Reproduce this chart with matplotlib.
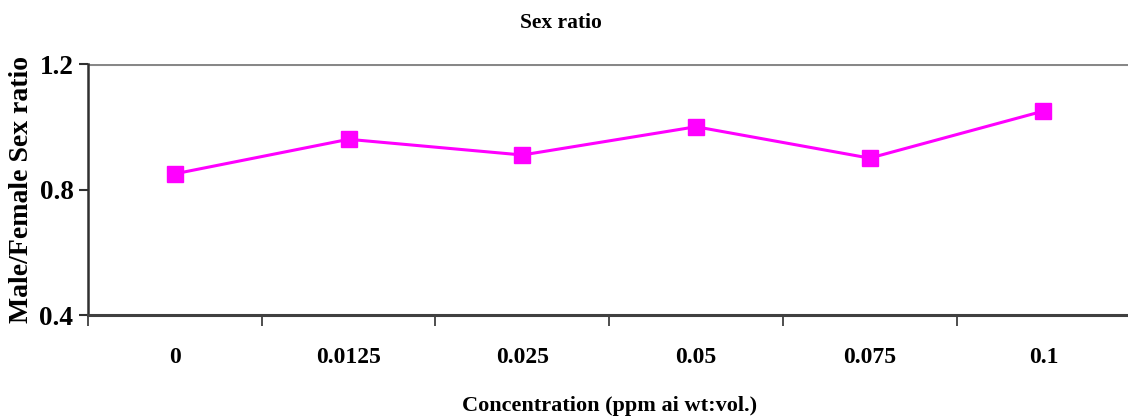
import matplotlib
matplotlib.use('Agg')
from matplotlib import pyplot as plt
import numpy as np

# data
concentrations = ['0', '0.0125', '0.025', '0.05', '0.075', '0.1']
sex_ratio = [0.85, 0.96, 0.91, 1.00, 0.90, 1.05]
y_ticks = [0.4, 0.8, 1.2]

plt.rcParams['font.family'] = ['Liberation Serif', 'DejaVu Serif']
plt.rcParams['font.weight'] = 'bold'

fig = plt.figure(figsize=(11.28, 4.17), dpi=100)
ax = fig.add_axes([0.078, 0.2446, 0.924, 0.6019])

x = np.arange(len(concentrations))
ax.plot(x, sex_ratio, color='#ff00ff', linewidth=2.2, marker='s',
        markersize=11, zorder=3, clip_on=False)

ax.set_xlim(-0.5, len(concentrations) - 0.5)
ax.set_ylim(0.4, 1.2)

# y axis
ax.set_yticks(y_ticks)
ax.set_yticklabels([str(v) for v in y_ticks], fontsize=19.5, fontweight='bold')
ax.tick_params(axis='y', direction='out', length=6.5, width=1.5, color='#303030', pad=4)
ax.axhline(1.2, color='#888888', linewidth=2.2, zorder=1)

# x axis: ticks between categories, labels centred under categories
ax.set_xticks(np.arange(-0.5, len(concentrations), 1.0))
ax.set_xticklabels([])
ax.tick_params(axis='x', which='major', direction='out', length=8, width=1.2, color='#303030')
ax.set_xticks(x, minor=True)
ax.set_xticklabels(concentrations, minor=True, fontsize=17, fontweight='bold')
ax.tick_params(axis='x', which='minor', length=0, pad=23)

for s in ['top', 'right']:
    ax.spines[s].set_visible(False)
ax.spines['left'].set_color('#303030')
ax.spines['left'].set_linewidth(1.8)
ax.spines['bottom'].set_color('#404040')
ax.spines['bottom'].set_linewidth(2.2)

ax.set_ylabel('Male/Female Sex ratio', fontsize=20, fontweight='bold', labelpad=4)
ax.set_xlabel('Concentration (ppm ai wt:vol.)', fontsize=16, fontweight='bold', labelpad=20)
fig.text(0.497, 0.945, 'Sex ratio', ha='center', va='center', fontsize=15.5, fontweight='bold')

fig.savefig('out.png', dpi=100)
